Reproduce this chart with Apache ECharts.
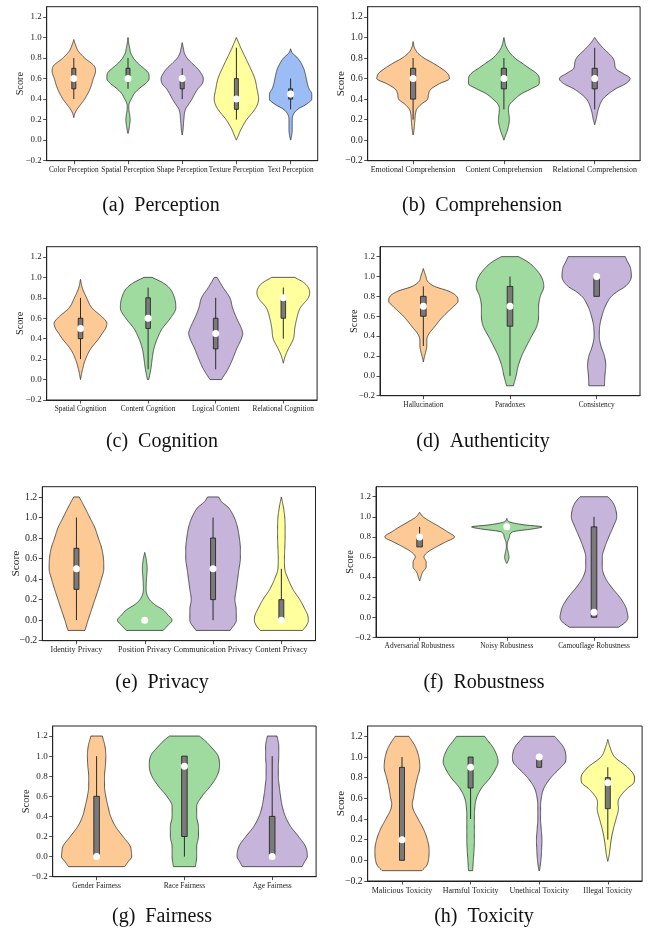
<!DOCTYPE html>
<html>
<head>
<meta charset="utf-8">
<script src="https://cdn.jsdelivr.net/npm/echarts@6/dist/echarts.min.js"></script>
<style>
  html, body { margin: 0; padding: 0; background: #fff; }
  #chart { width: 651px; height: 936px; }
</style>
</head>
<body>
<div id="chart"></div>
<script>
// Box statistics per violin: [lower whisker, Q1, median, Q3, upper whisker]
// Density outlines per violin: [score, half-width as a fraction of the category slot]

// (a) Perception
const perceptionCategories = ['Color Perception', 'Spatial Perception', 'Shape Perception', 'Texture Perception', 'Text Perception'];
const perceptionStats = [[0.4, 0.5, 0.6, 0.7, 0.8], [0.5, 0.6, 0.6, 0.7, 0.8], [0.4, 0.5, 0.6, 0.6, 0.7], [0.2, 0.3, 0.4, 0.6, 0.9], [0.3, 0.4, 0.45, 0.5, 0.6]];
const perceptionDensity = [
  [[0.22, 0], [0.26, 0.02], [0.3, 0.06], [0.35, 0.13], [0.4, 0.2], [0.5, 0.3], [0.6, 0.36], [0.67, 0.4], [0.72, 0.38], [0.8, 0.2], [0.87, 0.08], [0.93, 0.03], [0.98, 0]],
  [[0.065, 0], [0.1, 0.015], [0.15, 0.03], [0.2, 0.04], [0.25, 0.03], [0.3, 0.015], [0.34, 0.015], [0.38, 0.04], [0.42, 0.08], [0.45, 0.11], [0.5, 0.2], [0.55, 0.32], [0.6, 0.39], [0.65, 0.38], [0.7, 0.29], [0.75, 0.18], [0.8, 0.1], [0.85, 0.05], [0.9, 0.03], [0.95, 0.012], [1.0, 0]],
  [[0.05, 0], [0.1, 0.015], [0.2, 0.03], [0.3, 0.06], [0.35, 0.12], [0.4, 0.18], [0.45, 0.23], [0.5, 0.29], [0.55, 0.37], [0.6, 0.39], [0.65, 0.35], [0.7, 0.28], [0.75, 0.18], [0.8, 0.09], [0.85, 0.04], [0.9, 0.02], [0.95, 0]],
  [[0, 0], [0.05, 0.04], [0.1, 0.08], [0.2, 0.19], [0.3, 0.34], [0.35, 0.39], [0.4, 0.41], [0.5, 0.38], [0.6, 0.34], [0.7, 0.26], [0.8, 0.17], [0.9, 0.08], [0.95, 0.04], [1.0, 0]],
  [[0, 0], [0.05, 0.02], [0.1, 0.03], [0.2, 0.03], [0.25, 0.05], [0.3, 0.13], [0.35, 0.29], [0.4, 0.39], [0.45, 0.39], [0.5, 0.34], [0.55, 0.31], [0.6, 0.29], [0.7, 0.24], [0.8, 0.13], [0.85, 0.03], [0.89, 0]]
];

// (b) Comprehension
const comprehensionCategories = ['Emotional Comprehension', 'Content Comprehension', 'Relational Comprehension'];
const comprehensionStats = [[0.2, 0.4, 0.6, 0.7, 0.8], [0.3, 0.5, 0.6, 0.7, 0.8], [0.3, 0.5, 0.6, 0.7, 0.9]];
const comprehensionDensity = [
  [[0.05, 0], [0.1, 0.01], [0.2, 0.02], [0.25, 0.025], [0.3, 0.04], [0.35, 0.09], [0.4, 0.16], [0.45, 0.17], [0.5, 0.2], [0.55, 0.29], [0.6, 0.4], [0.65, 0.38], [0.7, 0.31], [0.75, 0.22], [0.8, 0.12], [0.85, 0.05], [0.9, 0.015], [0.96, 0]],
  [[0, 0], [0.05, 0.02], [0.1, 0.04], [0.2, 0.06], [0.3, 0.05], [0.35, 0.065], [0.4, 0.12], [0.45, 0.19], [0.5, 0.3], [0.55, 0.39], [0.6, 0.39], [0.65, 0.36], [0.7, 0.28], [0.75, 0.2], [0.8, 0.12], [0.9, 0.03], [1.0, 0]],
  [[0.15, 0], [0.2, 0.015], [0.3, 0.04], [0.4, 0.09], [0.45, 0.15], [0.5, 0.23], [0.55, 0.34], [0.6, 0.39], [0.65, 0.31], [0.7, 0.23], [0.75, 0.22], [0.8, 0.2], [0.9, 0.09], [0.95, 0.04], [1.0, 0]]
];

// (c) Cognition
const cognitionCategories = ['Spatial Cognition', 'Content Cognition', 'Logical Content', 'Relational Cognition'];
const cognitionStats = [[0.2, 0.4, 0.5, 0.6, 0.8], [0.1, 0.5, 0.6, 0.8, 0.9], [0.1, 0.3, 0.45, 0.6, 0.8], [0.4, 0.6, 0.8, 0.8, 0.9]];
const cognitionDensity = [
  [[0, 0], [0.1, 0.03], [0.2, 0.075], [0.3, 0.15], [0.4, 0.27], [0.45, 0.32], [0.5, 0.37], [0.55, 0.39], [0.6, 0.34], [0.7, 0.17], [0.8, 0.09], [0.9, 0.025], [0.98, 0]],
  [[0, 0.01], [0.1, 0.04], [0.2, 0.06], [0.3, 0.085], [0.4, 0.135], [0.5, 0.21], [0.6, 0.33], [0.7, 0.41], [0.8, 0.39], [0.9, 0.31], [0.95, 0.21], [1.0, 0.06]],
  [[0, 0.085], [0.1, 0.18], [0.2, 0.25], [0.3, 0.31], [0.4, 0.38], [0.45, 0.4], [0.5, 0.38], [0.6, 0.31], [0.7, 0.25], [0.8, 0.21], [0.9, 0.11], [1.0, 0.02]],
  [[0.16, 0], [0.2, 0.015], [0.25, 0.04], [0.3, 0.075], [0.4, 0.15], [0.5, 0.17], [0.6, 0.2], [0.7, 0.25], [0.8, 0.37], [0.85, 0.39], [0.9, 0.37], [0.95, 0.3], [1.0, 0.17]]
];

// (d) Authenticity
const authenticityCategories = ['Hallucination', 'Paradoxes', 'Consistency'];
const authenticityStats = [[0.3, 0.6, 0.7, 0.8, 0.9], [0, 0.5, 0.7, 0.9, 1.0], [0.8, 0.8, 1.0, 1.0, 1.0]];
const authenticityDensity = [
  [[0.14, 0], [0.2, 0.015], [0.25, 0.03], [0.3, 0.04], [0.35, 0.04], [0.4, 0.05], [0.5, 0.135], [0.6, 0.23], [0.7, 0.35], [0.75, 0.4], [0.8, 0.385], [0.85, 0.3], [0.9, 0.13], [0.95, 0.05], [1.0, 0.03], [1.08, 0]],
  [[-0.1, 0.04], [0, 0.07], [0.1, 0.095], [0.2, 0.135], [0.3, 0.19], [0.4, 0.25], [0.5, 0.31], [0.6, 0.33], [0.7, 0.33], [0.8, 0.35], [0.9, 0.39], [1.0, 0.36], [1.1, 0.27], [1.15, 0.2], [1.2, 0.1]],
  [[-0.1, 0.09], [0, 0.095], [0.1, 0.105], [0.2, 0.09], [0.3, 0.05], [0.4, 0.03], [0.5, 0.035], [0.6, 0.06], [0.7, 0.1], [0.8, 0.17], [0.85, 0.24], [0.9, 0.33], [1.0, 0.4], [1.1, 0.385], [1.15, 0.355], [1.2, 0.33]]
];

// (e) Privacy
const privacyCategories = ['Identity Privacy', 'Position Privacy', 'Communication Privacy', 'Content Privacy'];
const privacyStats = [[0, 0.3, 0.5, 0.7, 1.0], [0, 0, 0, 0, 0], [0, 0.2, 0.5, 0.8, 1.0], [0, 0, 0, 0.2, 0.5]];
const privacyDensity = [
  [[-0.1, 0.125], [0, 0.17], [0.1, 0.22], [0.2, 0.27], [0.3, 0.32], [0.4, 0.365], [0.5, 0.4], [0.6, 0.395], [0.7, 0.37], [0.8, 0.32], [0.9, 0.27], [1.0, 0.195], [1.1, 0.12], [1.2, 0.04]],
  [[-0.1, 0.27], [-0.05, 0.34], [0, 0.4], [0.05, 0.34], [0.1, 0.27], [0.15, 0.15], [0.2, 0.07], [0.3, 0.02], [0.4, 0.025], [0.5, 0.035], [0.6, 0.02], [0.66, 0]],
  [[-0.1, 0.25], [0, 0.34], [0.1, 0.34], [0.2, 0.32], [0.3, 0.34], [0.4, 0.36], [0.5, 0.38], [0.6, 0.4], [0.7, 0.4], [0.8, 0.385], [0.9, 0.36], [1.0, 0.31], [1.1, 0.22], [1.15, 0.13], [1.2, 0.08]],
  [[-0.1, 0.31], [-0.05, 0.37], [0, 0.395], [0.05, 0.385], [0.1, 0.35], [0.2, 0.27], [0.3, 0.17], [0.4, 0.1], [0.5, 0.05], [0.6, 0.045], [0.7, 0.05], [0.8, 0.055], [0.9, 0.055], [1.0, 0.05], [1.1, 0.03], [1.2, 0]]
];

// (f) Robustness
const robustnessCategories = ['Adversarial Robustness', 'Noisy Robustness', 'Camouflage Robustness'];
const robustnessStats = [[0.7, 0.7, 0.8, 0.8, 0.9], [0.9, 0.9, 0.9, 0.9, 0.9], [0, 0, 0.05, 0.9, 1.0]];
const robustnessDensity = [
  [[0.36, 0], [0.4, 0.015], [0.45, 0.035], [0.5, 0.075], [0.55, 0.075], [0.6, 0.05], [0.65, 0.095], [0.7, 0.19], [0.75, 0.3], [0.8, 0.4], [0.85, 0.32], [0.9, 0.23], [0.95, 0.13], [1.0, 0.04], [1.045, 0]],
  [[0.535, 0], [0.55, 0.01], [0.6, 0.025], [0.65, 0.015], [0.7, 0.005], [0.75, 0.01], [0.8, 0.03], [0.85, 0.065], [0.88, 0.3], [0.9, 0.405], [0.92, 0.2], [0.95, 0.03], [0.985, 0]],
  [[-0.1, 0.28], [-0.05, 0.36], [0, 0.39], [0.05, 0.38], [0.1, 0.365], [0.2, 0.295], [0.3, 0.2], [0.4, 0.125], [0.5, 0.095], [0.6, 0.095], [0.7, 0.125], [0.8, 0.17], [0.9, 0.22], [1.0, 0.26], [1.1, 0.24], [1.15, 0.21], [1.2, 0.16]]
];

// (g) Fairness
const fairnessCategories = ['Gender Fairness', 'Race Fairness', 'Age Fairness'];
const fairnessStats = [[0, 0, 0, 0.6, 1.0], [0, 0.2, 0.9, 1.0, 1.0], [0, 0, 0, 0.4, 1.0]];
const fairnessDensity = [
  [[-0.1, 0.32], [-0.05, 0.36], [0, 0.4], [0.05, 0.395], [0.1, 0.385], [0.2, 0.3], [0.3, 0.215], [0.4, 0.16], [0.5, 0.13], [0.6, 0.105], [0.7, 0.09], [0.8, 0.09], [0.9, 0.1], [1.0, 0.105], [1.1, 0.095], [1.2, 0.065]],
  [[-0.1, 0.125], [0, 0.14], [0.1, 0.14], [0.2, 0.16], [0.3, 0.16], [0.4, 0.14], [0.5, 0.14], [0.6, 0.2], [0.7, 0.295], [0.8, 0.37], [0.9, 0.4], [1.0, 0.385], [1.1, 0.295], [1.15, 0.24], [1.2, 0.17]],
  [[-0.1, 0.34], [-0.05, 0.37], [0, 0.4], [0.1, 0.38], [0.2, 0.3], [0.3, 0.21], [0.4, 0.15], [0.5, 0.115], [0.6, 0.095], [0.7, 0.08], [0.8, 0.07], [0.9, 0.07], [1.0, 0.075], [1.1, 0.075], [1.2, 0.055]]
];

// (h) Toxicity
const toxicityCategories = ['Malicious Toxicity', 'Harmful Toxicity', 'Unethical Toxicity', 'Illegal Toxicity'];
const toxicityStats = [[0, 0, 0.2, 0.9, 1.0], [0.4, 0.7, 0.9, 1.0, 1.0], [0.9, 0.9, 1.0, 1.0, 1.0], [0.2, 0.5, 0.75, 0.8, 0.9]];
const toxicityDensity = [
  [[-0.1, 0.29], [-0.05, 0.36], [0, 0.385], [0.1, 0.395], [0.2, 0.37], [0.3, 0.315], [0.4, 0.235], [0.5, 0.16], [0.55, 0.15], [0.6, 0.165], [0.7, 0.19], [0.8, 0.225], [0.9, 0.26], [1.0, 0.245], [1.1, 0.195], [1.2, 0.1]],
  [[-0.1, 0.03], [0, 0.04], [0.1, 0.05], [0.2, 0.055], [0.3, 0.055], [0.4, 0.055], [0.5, 0.06], [0.6, 0.085], [0.7, 0.16], [0.8, 0.285], [0.9, 0.375], [0.95, 0.4], [1.0, 0.39], [1.1, 0.32], [1.15, 0.26], [1.2, 0.205]],
  [[-0.1, 0.005], [0, 0.025], [0.1, 0.035], [0.2, 0.04], [0.3, 0.03], [0.4, 0.02], [0.5, 0.02], [0.6, 0.03], [0.7, 0.07], [0.8, 0.17], [0.9, 0.315], [0.95, 0.38], [1.0, 0.39], [1.1, 0.35], [1.15, 0.29], [1.2, 0.225]],
  [[-0.01, 0], [0.05, 0.02], [0.1, 0.03], [0.2, 0.05], [0.3, 0.08], [0.4, 0.12], [0.5, 0.155], [0.55, 0.15], [0.6, 0.165], [0.7, 0.29], [0.75, 0.38], [0.8, 0.39], [0.9, 0.29], [1.0, 0.1], [1.1, 0.03], [1.17, 0]]
];

const scoreTicks = [-0.2, 0, 0.2, 0.4, 0.6, 0.8, 1.0, 1.2];

const panels = [
  { caption: '(a)  Perception', categories: perceptionCategories, stats: perceptionStats, density: perceptionDensity },
  { caption: '(b)  Comprehension', categories: comprehensionCategories, stats: comprehensionStats, density: comprehensionDensity },
  { caption: '(c)  Cognition', categories: cognitionCategories, stats: cognitionStats, density: cognitionDensity },
  { caption: '(d)  Authenticity', categories: authenticityCategories, stats: authenticityStats, density: authenticityDensity },
  { caption: '(e)  Privacy', categories: privacyCategories, stats: privacyStats, density: privacyDensity },
  { caption: '(f)  Robustness', categories: robustnessCategories, stats: robustnessStats, density: robustnessDensity },
  { caption: '(g)  Fairness', categories: fairnessCategories, stats: fairnessStats, density: fairnessDensity },
  { caption: '(h)  Toxicity', categories: toxicityCategories, stats: toxicityStats, density: toxicityDensity }
];

// ---- layout & style ----
// plot rectangles [left, top, width, height] and label font size per panel
const frames = [
  [46.7, 6.7, 271, 154], [367.7, 6.7, 272.4, 154],
  [46.7, 246.7, 270.4, 153.3], [380, 246.7, 260, 149],
  [42.3, 486.7, 273.2, 154], [376, 486.7, 261.6, 150.6],
  [52.7, 726, 263.4, 150.7], [367.7, 726, 274.4, 155]
];
const labelSizes = [7.3, 7.9, 7.35, 7.35, 8.1, 7.4, 7.45, 8.0];
const boxWidths = [4, 5.2, 4.6, 5.6, 5, 5.6, 5.6, 5];
const captionAt = [[161, 205.5], [482, 205.5], [162, 442], [483, 442], [162, 683], [484, 683], [162, 917], [484, 917]];
const fills = ['#fdca96', '#9fdb9f', '#c6b4da', '#ffff9e', '#9bbcf5'];
const ink = '#222';
const serif = 'Liberation Serif, Times New Roman, serif';

// Fritsch–Carlson monotone cubic through [y, w] knots
function monotone(knots) {
  const n = knots.length;
  const xs = knots.map(k => k[0]), ys = knots.map(k => k[1]);
  const d = [], m = new Array(n);
  for (let i = 0; i < n - 1; i++) d.push((ys[i + 1] - ys[i]) / (xs[i + 1] - xs[i]));
  m[0] = d[0]; m[n - 1] = d[n - 2];
  for (let i = 1; i < n - 1; i++) m[i] = d[i - 1] * d[i] <= 0 ? 0 : (d[i - 1] + d[i]) / 2;
  for (let i = 0; i < n - 1; i++) {
    if (d[i] === 0) { m[i] = 0; m[i + 1] = 0; continue; }
    const a = m[i] / d[i], b = m[i + 1] / d[i], s = a * a + b * b;
    if (s > 9) { const t = 3 / Math.sqrt(s); m[i] = t * a * d[i]; m[i + 1] = t * b * d[i]; }
  }
  return function (x) {
    let i = 0;
    while (i < n - 2 && x > xs[i + 1]) i++;
    const h = xs[i + 1] - xs[i], t = (x - xs[i]) / h;
    const t2 = t * t, t3 = t2 * t;
    return (2 * t3 - 3 * t2 + 1) * ys[i] + (t3 - 2 * t2 + t) * h * m[i] +
           (-2 * t3 + 3 * t2) * ys[i + 1] + (t3 - t2) * h * m[i + 1];
  };
}

function violinRenderer(density, boxW) {
  return function (params, api) {
    const idx = api.value(0);
    const knots = density[idx];
    const f = monotone(knots);
    const slot = api.size([1, 0])[0];
    const cx = api.coord([idx, 0])[0];
    const yA = knots[0][0], yB = knots[knots.length - 1][0];
    const steps = 120;
    const right = [], left = [];
    for (let k = 0; k <= steps; k++) {
      const y = yA + (yB - yA) * k / steps;
      const w = Math.max(0, f(y)) * slot;
      const py = api.coord([idx, y])[1];
      right.push([cx + w, py]);
      left.push([cx - w, py]);
    }
    const outline = right.concat(left.reverse());
    const pLo = api.coord([idx, api.value(1)])[1];
    const pQ1 = api.coord([idx, api.value(2)])[1];
    const pMed = api.coord([idx, api.value(3)])[1];
    const pQ3 = api.coord([idx, api.value(4)])[1];
    const pHi = api.coord([idx, api.value(5)])[1];
    return {
      type: 'group',
      children: [
        { type: 'polygon', shape: { points: outline }, style: { fill: fills[idx % fills.length], stroke: '#333', lineWidth: 0.8 } },
        { type: 'line', shape: { x1: cx, y1: pLo, x2: cx, y2: pHi }, style: { stroke: '#2a2a2a', lineWidth: 1 } },
        { type: 'rect', shape: { x: cx - boxW / 2, y: pQ3, width: boxW, height: pQ1 - pQ3 }, style: { fill: '#7a7a7a', stroke: '#1a1a1a', lineWidth: 0.8 } },
        { type: 'circle', shape: { cx: cx, cy: pMed, r: 3.5 }, style: { fill: '#ffffff' } }
      ]
    };
  };
}

const grid = [], xAxis = [], yAxis = [], series = [], graphic = [];
panels.forEach((p, i) => {
  const [l, t, w, h] = frames[i];
  const fs = labelSizes[i];
  grid.push({ left: l, top: t, width: w, height: h, show: true, borderColor: ink, borderWidth: 1, backgroundColor: 'transparent', outerBoundsMode: 'none' });
  xAxis.push({
    type: 'category', gridIndex: i, data: p.categories, boundaryGap: true,
    axisLine: { show: true, onZero: false, lineStyle: { color: ink, width: 1 } },
    axisTick: { show: true, alignWithLabel: true, length: 3.5, lineStyle: { color: ink, width: 0.8 } },
    axisLabel: { interval: 0, margin: 5.5, color: ink, fontFamily: serif, fontSize: fs, hideOverlap: false },
    splitLine: { show: false }
  });
  yAxis.push({
    type: 'value', gridIndex: i, min: -0.2, max: 1.3,
    name: 'Score', nameLocation: 'middle', nameGap: 21, nameMoveOverlap: false,
    nameTextStyle: { color: ink, fontFamily: serif, fontSize: fs * 1.4 },
    axisLine: { show: true, onZero: false, lineStyle: { color: ink, width: 1 } },
    axisTick: { show: true, length: 3.5, customValues: scoreTicks, lineStyle: { color: ink, width: 0.8 } },
    axisLabel: {
      customValues: scoreTicks, margin: 5, color: ink, fontFamily: serif, fontSize: fs * 1.22,
      formatter: v => (v < -1e-9 ? '\u2212' : '') + Math.abs(v).toFixed(1)
    },
    splitLine: { show: false }
  });
  series.push({
    type: 'custom', xAxisIndex: i, yAxisIndex: i,
    renderItem: violinRenderer(p.density, boxWidths[i]),
    encode: { x: 0, y: [1, 2, 3, 4, 5] },
    data: p.stats.map((s, k) => [k].concat(s)),
    clip: false
  });
  graphic.push({
    type: 'text', x: captionAt[i][0], y: captionAt[i][1],
    style: { text: p.caption, fill: '#111', font: '20px ' + serif, textAlign: 'center', textVerticalAlign: 'middle' }
  });
});

const chart = echarts.init(document.getElementById('chart'), null, { renderer: 'canvas' });
chart.setOption({
  animation: false,
  backgroundColor: '#ffffff',
  grid, xAxis, yAxis, series, graphic
});
</script>
</body>
</html>
